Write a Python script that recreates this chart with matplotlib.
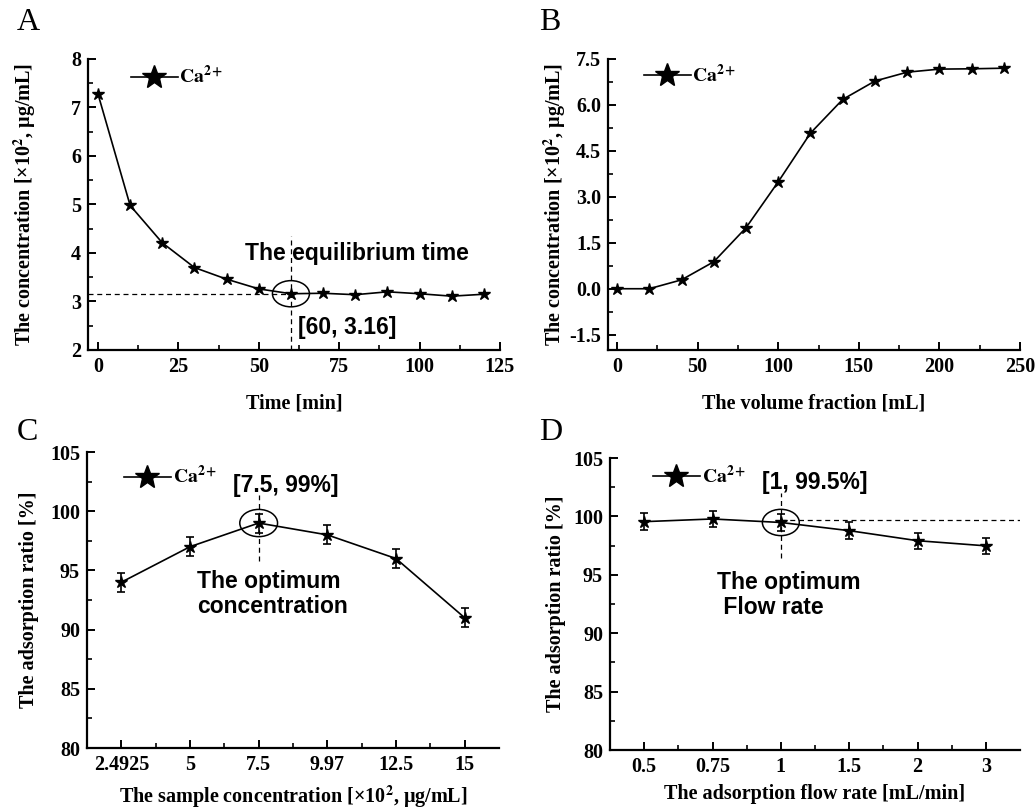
import matplotlib
matplotlib.use("Agg")
import matplotlib.pyplot as plt
from matplotlib.patches import Ellipse
from matplotlib.ticker import MultipleLocator, FormatStrFormatter, FixedLocator
import numpy as np

plt.rcParams["font.family"] = ["Liberation Serif", "DejaVu Serif"]
plt.rcParams["mathtext.fontset"] = "stix"
plt.rcParams["axes.unicode_minus"] = False

# A: equilibrium time
time_min = [0, 10, 20, 30, 40, 50, 60, 70, 80, 90, 100, 110, 120]
conc_time = [7.28, 4.98, 4.21, 3.70, 3.46, 3.26, 3.16, 3.17, 3.14, 3.20, 3.16, 3.11, 3.15]

# B: breakthrough curve
volume_ml = [0, 20, 40, 60, 80, 100, 120, 140, 160, 180, 200, 220, 240]
conc_volume = [0.0, 0.0, 0.29, 0.88, 1.99, 3.49, 5.08, 6.18, 6.78, 7.07, 7.17, 7.18, 7.20]

# C: sample concentration
sample_labels = ["2.4925", "5", "7.5", "9.97", "12.5", "15"]
ratio_sample = [94.0, 97.0, 99.0, 98.0, 96.0, 91.0]
err_sample = [0.8, 0.8, 0.8, 0.8, 0.8, 0.8]

# D: flow rate
flow_labels = ["0.5", "0.75", "1", "1.5", "2", "3"]
ratio_flow = [99.55, 99.78, 99.48, 98.78, 97.92, 97.48]
err_flow = [0.7, 0.7, 0.7, 0.7, 0.7, 0.7]

W, H = 1036, 810
fig = plt.figure(figsize=(W / 100, H / 100), dpi=100)


def add_ax(l, r, t, b):
    return fig.add_axes([l / W, 1 - b / H, (r - l) / W, (b - t) / H])


tick_font = dict(family="Liberation Serif", weight="bold", size=14.5)
lab_font = dict(family="Liberation Serif", weight="bold", size=14.5)
ann_font = dict(family="Liberation Sans", weight="bold", size=16.5)


def style(ax):
    for s in ["top", "right"]:
        ax.spines[s].set_visible(False)
    for s in ["left", "bottom"]:
        ax.spines[s].set_linewidth(1.6)
    ax.tick_params(which="major", direction="in", length=6, width=1.4, pad=5)
    ax.tick_params(which="minor", direction="in", length=3.5, width=1.2)
    for lab in ax.get_xticklabels() + ax.get_yticklabels():
        lab.set_fontproperties(tick_font)


def legend(ax, h, x, y):
    ax.legend([h], [r"$\mathbf{Ca}^{\mathbf{2+}}$"], loc="center left",
              bbox_to_anchor=(x, y), frameon=False, markerscale=2.0,
              handlelength=2.4, handletextpad=0.1, fontsize=14,
              borderpad=0, borderaxespad=0)


line_kw = dict(color="black", lw=1.2, marker="*", ms=9, mfc="black", mec="black")
dash_kw = dict(color="black", lw=0.9, ls=(0, (4, 3)))

# ---- A
ax = add_ax(88, 500, 59, 350)
h, = ax.plot(time_min, conc_time, **line_kw)
ax.set_xlim(-3.1, 125)
ax.set_ylim(2, 8)
ax.xaxis.set_major_locator(MultipleLocator(25))
ax.xaxis.set_minor_locator(MultipleLocator(12.5))
ax.yaxis.set_major_locator(MultipleLocator(1))
ax.yaxis.set_minor_locator(MultipleLocator(0.5))
ax.plot([-3.1, time_min[6]], [conc_time[6], conc_time[6]], **dash_kw)
ax.plot([time_min[6], time_min[6]], [2, 4.35], **dash_kw)
ax.add_patch(Ellipse((time_min[6], conc_time[6]), 11.5, 0.54, fill=False, lw=1.1, ec="black"))
ax.text(80.5, 3.98, "The equilibrium time", ha="center", va="center", **ann_font)
ax.text(62.2, 2.47, "[60, 3.16]", ha="left", va="center", **ann_font)
ax.set_xlabel("Time [min]", labelpad=12, **lab_font)
ax.set_ylabel("The concentration [×10$^{\\mathbf{2}}$, μg/mL]", labelpad=24, **lab_font)
legend(ax, h, 0.104, 0.94)
style(ax)

# ---- B
ax = add_ax(608, 1020, 59, 350)
h, = ax.plot(volume_ml, conc_volume, **line_kw)
ax.set_xlim(-5.6, 250)
ax.set_ylim(-2.0, 7.5)
ax.xaxis.set_major_locator(MultipleLocator(50))
ax.xaxis.set_minor_locator(MultipleLocator(25))
ax.yaxis.set_major_locator(FixedLocator([-1.5, 0, 1.5, 3, 4.5, 6, 7.5]))
ax.yaxis.set_minor_locator(FixedLocator(np.arange(-1.5, 7.6, 0.75)))
ax.yaxis.set_major_formatter(FormatStrFormatter("%.1f"))
ax.set_xlabel("The volume fraction [mL]", labelpad=12, **lab_font)
ax.set_ylabel("The concentration [×10$^{\\mathbf{2}}$, μg/mL]", labelpad=1, **lab_font)
legend(ax, h, 0.087, 0.945)
style(ax)

# ---- C
ax = add_ax(87, 499, 452, 748)
xs = np.arange(len(sample_labels))
ax.errorbar(xs, ratio_sample, yerr=err_sample, capsize=3, elinewidth=1.2, capthick=1.2, **line_kw)
h, = ax.plot([], [], **line_kw)
ax.set_xlim(-0.5, 5.5)
ax.set_ylim(80, 105)
ax.set_xticks(xs)
ax.set_xticklabels(sample_labels)
ax.xaxis.set_minor_locator(FixedLocator(xs[:-1] + 0.5))
ax.yaxis.set_major_locator(MultipleLocator(5))
ax.yaxis.set_minor_locator(MultipleLocator(2.5))
ax.plot([2, 2], [95.8, 101.4], **dash_kw)
ax.add_patch(Ellipse((2, ratio_sample[2]), 0.55, 2.3, fill=False, lw=1.1, ec="black"))
ax.text(2.4, 102.2, "[7.5, 99%]", ha="center", va="center", **ann_font)
ax.text(1.1, 93.0, "The optimum\nconcentration", ha="left", va="center",
        linespacing=1.1, **ann_font)
ax.set_xlabel("The sample concentration [×10$^{\\mathbf{2}}$, μg/mL]", labelpad=6, **lab_font)
ax.set_ylabel("The adsorption ratio [%]", labelpad=8, **lab_font)
legend(ax, h, 0.09, 0.918)
style(ax)

# ---- D
ax = add_ax(610, 1020, 458, 750)
xs = np.arange(len(flow_labels))
ax.errorbar(xs, ratio_flow, yerr=err_flow, capsize=3, elinewidth=1.2, capthick=1.2, **line_kw)
h, = ax.plot([], [], **line_kw)
ax.set_xlim(-0.5, 5.5)
ax.set_ylim(80, 105)
ax.set_xticks(xs)
ax.set_xticklabels(flow_labels)
ax.xaxis.set_minor_locator(FixedLocator(xs[:-1] + 0.5))
ax.yaxis.set_major_locator(MultipleLocator(5))
ax.yaxis.set_minor_locator(MultipleLocator(2.5))
ax.plot([2, 2], [96.4, 102.0], **dash_kw)
ax.plot([2, 5.5], [99.7, 99.7], **dash_kw)
ax.add_patch(Ellipse((2, ratio_flow[2]), 0.54, 2.25, fill=False, lw=1.1, ec="black"))
ax.text(2.5, 102.9, "[1, 99.5%]", ha="center", va="center", **ann_font)
ax.text(1.06, 93.3, "The optimum\n Flow rate", ha="left", va="center",
        linespacing=1.1, **ann_font)
ax.set_xlabel("The adsorption flow rate [mL/min]", labelpad=5, **lab_font)
ax.set_ylabel("The adsorption ratio [%]", labelpad=5, **lab_font)
legend(ax, h, 0.105, 0.938)
style(ax)

# panel letters
for letter, (px, py) in zip("ABCD", [(17, 23), (539, 23), (17, 433), (539, 433)]):
    fig.text(px / W, 1 - py / H, letter, ha="left", va="center",
             family="Liberation Serif", size=23)

fig.savefig("out.png", dpi=100)
